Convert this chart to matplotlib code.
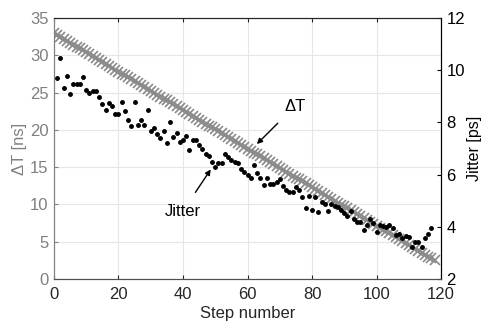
import numpy as np
import matplotlib.pyplot as plt

plt.rcParams['font.family'] = ['Liberation Sans', 'DejaVu Sans']

# delta T [ns], one point per step 0..118
dt_steps = list(range(0, 119))
dt_ns = [33.00, 32.74, 32.48, 32.22, 31.97, 31.71, 31.45, 31.19, 30.93, 30.67,
         30.42, 30.16, 29.90, 29.64, 29.38, 29.12, 28.86, 28.61, 28.35, 28.09,
         27.83, 27.57, 27.31, 27.05, 26.80, 26.54, 26.28, 26.02, 25.76, 25.50,
         25.25, 24.99, 24.73, 24.47, 24.21, 23.95, 23.69, 23.44, 23.18, 22.92,
         22.66, 22.40, 22.14, 21.88, 21.63, 21.37, 21.11, 20.85, 20.59, 20.33,
         20.08, 19.82, 19.56, 19.30, 19.04, 18.78, 18.52, 18.27, 18.01, 17.75,
         17.49, 17.23, 16.97, 16.71, 16.46, 16.20, 15.94, 15.68, 15.42, 15.16,
         14.91, 14.65, 14.39, 14.13, 13.87, 13.61, 13.35, 13.10, 12.84, 12.58,
         12.32, 12.06, 11.80, 11.54, 11.29, 11.03, 10.77, 10.51, 10.25, 9.99,
         9.74, 9.48, 9.22, 8.96, 8.70, 8.44, 8.18, 7.93, 7.67, 7.41,
         7.15, 6.89, 6.63, 6.37, 6.12, 5.86, 5.60, 5.34, 5.08, 4.82,
         4.57, 4.31, 4.05, 3.79, 3.53, 3.27, 3.01, 2.76, 2.50]

# jitter [ps], steps 1..117
jit_steps = list(range(1, 118))
jitter_ps = [9.71, 10.46, 9.34, 9.80, 9.09, 9.46, 9.46, 9.46, 9.74, 9.23,
             9.14, 9.20, 9.20, 8.97, 8.71, 8.49, 8.74, 8.63, 8.34, 8.31,
             8.80, 8.43, 8.11, 7.86, 8.77, 7.89, 8.09, 7.91, 8.49, 7.69,
             7.77, 7.57, 7.40, 7.69, 7.23, 8.03, 7.43, 7.60, 7.26, 7.31,
             7.49, 6.94, 7.34, 7.34, 7.14, 6.97, 6.80, 6.71, 6.49, 6.31,
             6.43, 6.46, 6.80, 6.66, 6.57, 6.49, 6.43, 6.23, 6.11, 5.97,
             5.89, 6.37, 6.06, 5.89, 5.60, 5.89, 5.66, 5.63, 5.71, 5.83,
             5.57, 5.40, 5.34, 5.34, 5.54, 5.43, 5.14, 4.71, 5.17, 4.63,
             5.14, 4.57, 4.97, 4.89, 4.60, 4.89, 4.80, 4.77, 4.63, 4.54,
             4.40, 4.60, 4.31, 4.20, 4.20, 3.86, 4.06, 4.31, 4.14, 3.80,
             4.06, 4.03, 4.00, 4.06, 3.97, 3.69, 3.74, 3.57, 3.63, 3.60,
             3.23, 3.40, 3.40, 3.23, 3.57, 3.71, 3.94]

grey = '#808080'
dark = '#262626'
fs = 12

fig = plt.figure(figsize=(4.82, 3.24), dpi=100)
ax = fig.add_axes([0.112, 0.139, 0.803, 0.805])
ax2 = ax.twinx()

ax.plot(dt_steps, dt_ns, 'x', color='#8a8a8a', markersize=6.5, markeredgewidth=1.2)
ax2.plot(jit_steps, jitter_ps, 'o', color='black', markersize=2.5)

ax.set_xlim(0, 120)
ax.set_ylim(0, 35)
ax2.set_ylim(2, 12)
ax.set_xticks(np.arange(0, 121, 20))
ax.set_yticks(np.arange(0, 36, 5))
ax2.set_yticks(np.arange(2, 13, 2))

ax.grid(True, color='#e6e6e6', linewidth=0.8)
ax.set_axisbelow(True)

ax.tick_params(axis='x', direction='in', length=3, labelsize=fs, colors=dark,
               top=True, pad=6)
ax.tick_params(axis='y', direction='in', length=3, labelsize=fs, colors=grey, pad=4)
ax2.tick_params(axis='y', direction='in', length=3, labelsize=fs, colors='black', pad=4)

ax.set_xlabel('Step number', fontsize=fs, color=dark, labelpad=3)
ax.set_ylabel('ΔT [ns]', fontsize=fs, color=grey, labelpad=2)
ax2.set_ylabel('Jitter [ps]', fontsize=11.5, color='black', labelpad=1)

for a in (ax, ax2):
    a.spines['left'].set_color(grey)
    a.spines['bottom'].set_color('#505050')
    a.spines['top'].set_color(dark)
    a.spines['right'].set_color('black')

ax.annotate('ΔT', xy=(62.9, 18.1), xytext=(74.7, 23.2), fontsize=fs,
            ha='center', va='center',
            arrowprops=dict(arrowstyle='-|>', color='black', lw=1, shrinkA=7, shrinkB=0,
                            mutation_scale=8))
ax.annotate('Jitter', xy=(48.6, 14.7), xytext=(39.8, 9.0), fontsize=fs,
            ha='center', va='center',
            arrowprops=dict(arrowstyle='-|>', color='black', lw=1, shrinkA=8, shrinkB=0,
                            mutation_scale=8))

fig.savefig('out.png', dpi=100)
